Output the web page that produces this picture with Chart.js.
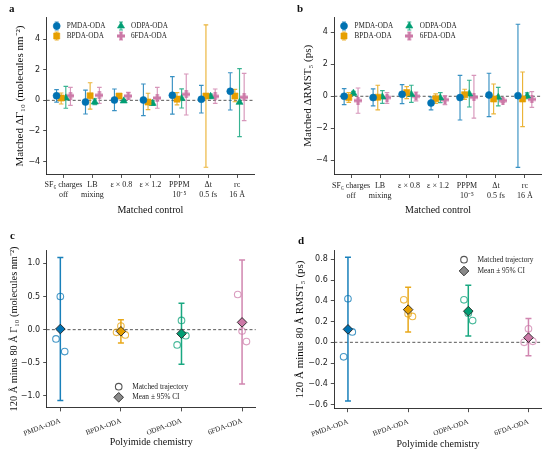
<!DOCTYPE html>
<html>
<head>
<meta charset="utf-8">
<script src="https://cdn.jsdelivr.net/npm/chart.js@4.4.1/dist/chart.umd.min.js"></script>
<style>
  body { margin: 0; background: #fff; }
  #fig { position: relative; width: 550px; height: 455px; overflow: hidden; }
  canvas { position: absolute; }
  .tag { position: absolute; font: bold 11px "Liberation Serif", serif; color: #111; }
</style>
</head>
<body>
<div id="fig">
  <canvas id="chartA" width="275" height="228" style="left:0;top:0"></canvas>
  <canvas id="chartB" width="275" height="228" style="left:275px;top:0"></canvas>
  <canvas id="chartC" width="275" height="227" style="left:0;top:228px"></canvas>
  <canvas id="chartD" width="275" height="227" style="left:275px;top:228px"></canvas>
  <div class="tag" style="left:9px;top:2px">a</div>
  <div class="tag" style="left:297px;top:2px">b</div>
  <div class="tag" style="left:10px;top:229px">c</div>
  <div class="tag" style="left:298px;top:234px">d</div>
</div>
<script>
// categories
const controls = [['SF₆ charges', 'off'], ['LB', 'mixing'], ['ε × 0.8'], ['ε × 1.2'], ['PPPM', '10⁻⁵'], ['Δt', '0.5 fs'], ['rc', '16 Å']];
const polymers = ['PMDA-ODA', 'BPDA-ODA', 'ODPA-ODA', '6FDA-ODA'];

// panel a: matched ΔΓ10, mean and CI (rows = polymers, cols = controls)
const gammaMean = [
  [0.30, -0.11, 0.02, 0.02, 0.33, 0.07, 0.59],
  [0.15, 0.30, 0.28, -0.11, 0.08, 0.28, 0.28],
  [0.15, -0.11, -0.04, -0.20, 0.12, 0.26, -0.13],
  [0.30, 0.33, 0.28, 0.15, 0.39, 0.26, 0.20]
];
const gammaLow = [
  [-0.12, -0.89, -0.67, -1.00, -0.90, -0.83, -0.63],
  [-0.24, -0.57, 0.15, -0.61, -0.30, -4.37, -0.09],
  [-0.52, -0.28, -0.14, -0.33, -0.50, 0.11, -2.37],
  [-0.33, -0.20, 0.09, -0.52, -0.96, -0.20, -1.33]
];
const gammaHigh = [
  [0.70, 0.67, 0.74, 1.07, 1.55, 0.98, 1.80],
  [0.48, 1.15, 0.41, 0.46, 0.50, 4.93, 0.72],
  [0.91, 0.10, 0.06, -0.04, 0.75, 0.41, 2.07],
  [0.85, 0.85, 0.52, 0.85, 1.72, 0.74, 1.76]
];
const gammaTicks = [-4, -2, 0, 2, 4];

// panel b: matched ΔRMST5
const rmstMean = [
  [0.00, -0.08, 0.12, -0.42, -0.08, 0.08, 0.04],
  [-0.08, -0.06, 0.23, -0.15, 0.10, -0.17, -0.17],
  [0.19, -0.04, 0.12, -0.10, 0.15, -0.06, 0.02],
  [-0.27, -0.08, 0.00, -0.21, -0.06, -0.27, -0.19]
];
const rmstLow = [
  [-0.52, -0.60, -0.46, -0.85, -1.48, -1.27, -4.44],
  [-0.38, -0.85, -0.15, -0.44, -0.19, -1.10, -1.90],
  [0.04, -0.44, -0.38, -0.40, -0.67, -0.60, -0.15],
  [-1.06, -0.44, -0.29, -0.52, -1.37, -0.38, -0.69]
];
const rmstHigh = [
  [0.48, 0.46, 0.73, -0.04, 1.31, 1.44, 4.50],
  [0.23, 0.69, 0.60, 0.15, 0.44, 0.77, 1.52],
  [0.31, 0.35, 0.69, 0.23, 1.00, 0.56, 0.21],
  [0.52, 0.23, 0.27, 0.04, 1.31, -0.17, 0.29]
];
const rmstTicks = [-4, -2, 0, 2, 4];

// panel c: 120 Å minus 80 Å Γ10, three matched trajectories + mean ± 95% CI
const gammaTraj = [[-0.14, 0.50, -0.33], [-0.04, 0.055, -0.08], [-0.23, 0.14, -0.09], [0.53, -0.02, -0.18]];
const gammaDiff = [0.01, -0.025, -0.06, 0.11];
const gammaDiffLow = [-1.07, -0.20, -0.52, -0.82];
const gammaDiffHigh = [1.09, 0.15, 0.40, 1.05];
const gammaDiffTicks = [-1, -0.5, 0, 0.5, 1];

// panel d: 120 Å minus 80 Å RMST5
const rmstTraj = [[-0.14, 0.42, 0.10], [0.41, 0.275, 0.25], [0.41, 0.28, 0.21], [0.00, 0.13, 0.01]];
const rmstDiff = [0.125, 0.315, 0.30, 0.045];
const rmstDiffLow = [-0.565, 0.10, 0.06, -0.13];
const rmstDiffHigh = [0.82, 0.53, 0.55, 0.23];
const rmstDiffTicks = [-0.6, -0.4, -0.2, 0, 0.2, 0.4, 0.6, 0.8];

// styling
const colors = ['#0072B2', '#E69F00', '#009E73', '#CC79A7'];
const seriesOffset = [-0.24, -0.08, 0.08, 0.24];
const jitter = [-0.072, 0, 0.072];
const serif = '"Liberation Serif", "Times New Roman", serif';
const sans = '"DejaVu Sans", sans-serif';

function fade(hex, a) {
  const n = parseInt(hex.slice(1), 16);
  return `rgba(${n >> 16},${(n >> 8) & 255},${n & 255},${a})`;
}

function plusMarker(color, s) {
  const c = document.createElement('canvas');
  c.width = s; c.height = s;
  const g = c.getContext('2d');
  g.fillStyle = color;
  const w = s * 0.38;
  g.fillRect((s - w) / 2, 0, w, s);
  g.fillRect(0, (s - w) / 2, s, w);
  return c;
}

const markerStyle = ['circle', 'rect', 'triangle', plusMarker(colors[3], 8)];
const markerRadius = [3.5, 4.3, 4.1, 4];

// zero line and error bars, positioned with the chart's scales
const errorBars = {
  id: 'errorBars',
  beforeDatasetsDraw(chart) {
    const { ctx, chartArea, scales: { x, y } } = chart;
    ctx.save();
    const y0 = y.getPixelForValue(0);
    ctx.setLineDash([3, 2.2]);
    ctx.strokeStyle = '#444';
    ctx.lineWidth = 0.9;
    ctx.beginPath(); ctx.moveTo(chartArea.left, y0); ctx.lineTo(chartArea.right, y0); ctx.stroke();
    ctx.setLineDash([]);
    chart.data.datasets.forEach(ds => {
      if (!ds.barColor) return;
      ctx.strokeStyle = ds.barColor;
      ctx.lineWidth = ds.barWidth;
      ds.data.forEach(p => {
        const px = x.getPixelForValue(p.x);
        const lo = y.getPixelForValue(p.lo), hi = y.getPixelForValue(p.hi);
        ctx.beginPath();
        ctx.moveTo(px, lo); ctx.lineTo(px, hi);
        ctx.moveTo(px - ds.cap, lo); ctx.lineTo(px + ds.cap, lo);
        ctx.moveTo(px - ds.cap, hi); ctx.lineTo(px + ds.cap, hi);
        ctx.stroke();
      });
    });
    ctx.restore();
  }
};

const seriesLegend = {
  id: 'seriesLegend',
  afterDraw(chart, args, opts) {
    if (!opts.show) return;
    const ctx = chart.ctx;
    ctx.save();
    ctx.font = '7.2px ' + serif;
    ctx.textBaseline = 'middle';
    chart.data.datasets.forEach((ds, s) => {
      const x = opts.x + Math.floor(s / 2) * opts.colGap;
      const y = opts.y + (s % 2) * opts.rowGap;
      ctx.strokeStyle = ds.barColor; ctx.lineWidth = 1;
      ctx.beginPath();
      ctx.moveTo(x, y - 4); ctx.lineTo(x, y + 4);
      ctx.moveTo(x - 2, y - 4); ctx.lineTo(x + 2, y - 4);
      ctx.moveTo(x - 2, y + 4); ctx.lineTo(x + 2, y + 4);
      ctx.stroke();
      ctx.fillStyle = ds.backgroundColor; ctx.strokeStyle = ds.borderColor; ctx.lineWidth = ds.borderWidth;
      Chart.helpers.drawPoint(ctx, { pointStyle: ds.pointStyle, radius: ds.pointRadius, rotation: 0, borderWidth: ds.borderWidth }, x, y);
      ctx.fillStyle = '#222';
      ctx.fillText(ds.label, x + opts.textGap, y);
    });
    ctx.restore();
  }
};

const trajLegend = {
  id: 'trajLegend',
  afterDraw(chart, args, opts) {
    if (!opts.show) return;
    const ctx = chart.ctx;
    ctx.save();
    ctx.font = '7.4px ' + serif;
    ctx.textBaseline = 'middle';
    ctx.fillStyle = 'rgba(0,0,0,0)'; ctx.strokeStyle = '#555'; ctx.lineWidth = 1.1;
    Chart.helpers.drawPoint(ctx, { pointStyle: 'circle', radius: 3.3, rotation: 0, borderWidth: 1.1 }, opts.x, opts.y1);
    ctx.fillStyle = '#8a8a8a'; ctx.strokeStyle = '#222'; ctx.lineWidth = 0.9;
    Chart.helpers.drawPoint(ctx, { pointStyle: 'rectRot', radius: 4.8, rotation: 0, borderWidth: 0.9 }, opts.x, opts.y2);
    ctx.fillStyle = '#222';
    ctx.fillText('Matched trajectory', opts.x + 13.5, opts.y1);
    ctx.fillText('Mean ± 95% CI', opts.x + 13.5, opts.y2);
    ctx.restore();
  }
};

function fmt(v, dec) {
  return (v < 0 ? '−' : '') + Math.abs(v).toFixed(dec);
}

function seriesSets(mean, low, high) {
  return polymers.map((name, s) => ({
    label: name,
    data: mean[s].map((m, i) => ({ x: i + seriesOffset[s], y: m, lo: low[s][i], hi: high[s][i] })),
    pointStyle: markerStyle[s],
    pointRadius: markerRadius[s],
    backgroundColor: colors[s],
    borderColor: colors[s],
    borderWidth: 0.6,
    barColor: fade(colors[s], 0.78),
    barWidth: 1.15,
    cap: 2.3
  }));
}

function diffSets(traj, mean, low, high) {
  const means = polymers.map((name, s) => ({
    label: name + ' mean',
    data: [{ x: s, y: mean[s], lo: low[s], hi: high[s] }],
    pointStyle: 'rectRot',
    pointRadius: 4.8,
    backgroundColor: colors[s],
    borderColor: '#222',
    borderWidth: 0.9,
    barColor: fade(colors[s], 0.9),
    barWidth: 1.5,
    cap: 3
  }));
  const trajs = polymers.map((name, s) => ({
    label: name + ' trajectories',
    data: traj[s].map((v, k) => ({ x: s + jitter[k], y: v })),
    pointStyle: 'circle',
    pointRadius: 3.3,
    backgroundColor: 'rgba(0,0,0,0)',
    borderColor: fade(colors[s], 0.72),
    borderWidth: 1.1
  }));
  return means.concat(trajs);
}

function build(id, o) {
  new Chart(document.getElementById(id), {
    type: 'scatter',
    data: { datasets: o.datasets },
    options: {
      responsive: false,
      animation: false,
      events: [],
      layout: { padding: o.pad },
      plugins: {
        legend: { display: false },
        tooltip: { enabled: false },
        seriesLegend: o.seriesLegend || { show: false },
        trajLegend: o.trajLegend || { show: false }
      },
      scales: {
        x: {
          type: 'linear', min: o.xMin, max: o.xMax,
          afterBuildTicks: ax => { ax.ticks = o.xLabels.map((l, i) => ({ value: i })); },
          afterFit: ax => { ax.height = o.xHeight; },
          ticks: {
            autoSkip: false, maxRotation: o.rot, minRotation: o.rot, padding: o.xPad, color: '#222',
            font: { family: serif, size: o.xFont, lineHeight: 1.25 },
            callback: (v, i) => o.xLabels[i]
          },
          grid: { drawOnChartArea: false, tickLength: 3.5, color: '#222', tickWidth: 0.8 },
          border: { display: true, color: '#222', width: 0.9 },
          title: { display: true, text: o.xTitle, color: '#111', font: { family: serif, size: 10 }, padding: { top: 2, bottom: 2 } }
        },
        y: {
          type: 'linear', min: o.yMin, max: o.yMax,
          afterBuildTicks: ax => { ax.ticks = o.yTicks.map(v => ({ value: v })); },
          afterFit: ax => { ax.width = o.yWidth; },
          ticks: { padding: 3, color: '#222', font: { family: sans, size: 8 }, callback: v => fmt(v, o.yDec) },
          grid: { drawOnChartArea: false, tickLength: 3.5, color: '#222', tickWidth: 0.8 },
          border: { display: true, color: '#222', width: 0.9 },
          title: { display: true, text: o.yTitle, color: '#111', font: { family: serif, size: o.yFont }, padding: { top: 4, bottom: 4 } }
        }
      }
    },
    plugins: [errorBars, seriesLegend, trajLegend]
  });
}

build('chartA', {
  datasets: seriesSets(gammaMean, gammaLow, gammaHigh),
  pad: { left: 9.4, top: 17.7, right: 21, bottom: 10 },
  yWidth: 37.3, xHeight: 43.6,
  xMin: -0.58, xMax: 6.58, xLabels: controls, rot: 0, xFont: 8, xPad: 2.5, xTitle: 'Matched control',
  yMin: -4.84, yMax: 5.4, yTicks: gammaTicks, yDec: 0, yFont: 11, yTitle: 'Matched ΔΓ₁₀ (molecules nm⁻²)',
  seriesLegend: { show: true, x: 56.7, y: 26, colGap: 64.3, rowGap: 10, textGap: 10 }
});

build('chartB', {
  datasets: seriesSets(rmstMean, rmstLow, rmstHigh),
  pad: { left: 22.7, top: 17.1, right: 8.3, bottom: 10 },
  yWidth: 36.6, xHeight: 43.5,
  xMin: -0.58, xMax: 6.58, xLabels: controls, rot: 0, xFont: 8, xPad: 2.5, xTitle: 'Matched control',
  yMin: -4.89, yMax: 4.95, yTicks: rmstTicks, yDec: 0, yFont: 11, yTitle: 'Matched ΔRMST₅ (ps)',
  seriesLegend: { show: true, x: 69, y: 26, colGap: 65.3, rowGap: 10, textGap: 10.5 }
});

build('chartC', {
  datasets: diffSets(gammaTraj, gammaDiff, gammaDiffLow, gammaDiffHigh),
  pad: { left: 4.6, top: 22.1, right: 19.3, bottom: 4.3 },
  yWidth: 42.1, xHeight: 42.8,
  xMin: -0.225, xMax: 3.225, xLabels: polymers, rot: 20, xFont: 7.2, xPad: 5, xTitle: 'Polyimide chemistry',
  yMin: -1.18, yMax: 1.2, yTicks: gammaDiffTicks, yDec: 1, yFont: 10.3, yTitle: '120 Å minus 80 Å Γ₁₀ (molecules nm⁻²)',
  trajLegend: { show: true, x: 118.7, y1: 158.7, y2: 169.3 }
});

build('chartD', {
  datasets: diffSets(rmstTraj, rmstDiff, rmstDiffLow, rmstDiffHigh),
  pad: { left: 14.4, top: 22, right: 8.3, bottom: 2.3 },
  yWidth: 44.9, xHeight: 44,
  xMin: -0.227, xMax: 3.22, xLabels: polymers, rot: 20, xFont: 7.2, xPad: 5, xTitle: 'Polyimide chemistry',
  yMin: -0.64, yMax: 0.89, yTicks: rmstDiffTicks, yDec: 1, yFont: 11, yTitle: '120 Å minus 80 Å RMST₅ (ps)',
  trajLegend: { show: true, x: 189, y1: 31.7, y2: 43 }
});
</script>
</body>
</html>
